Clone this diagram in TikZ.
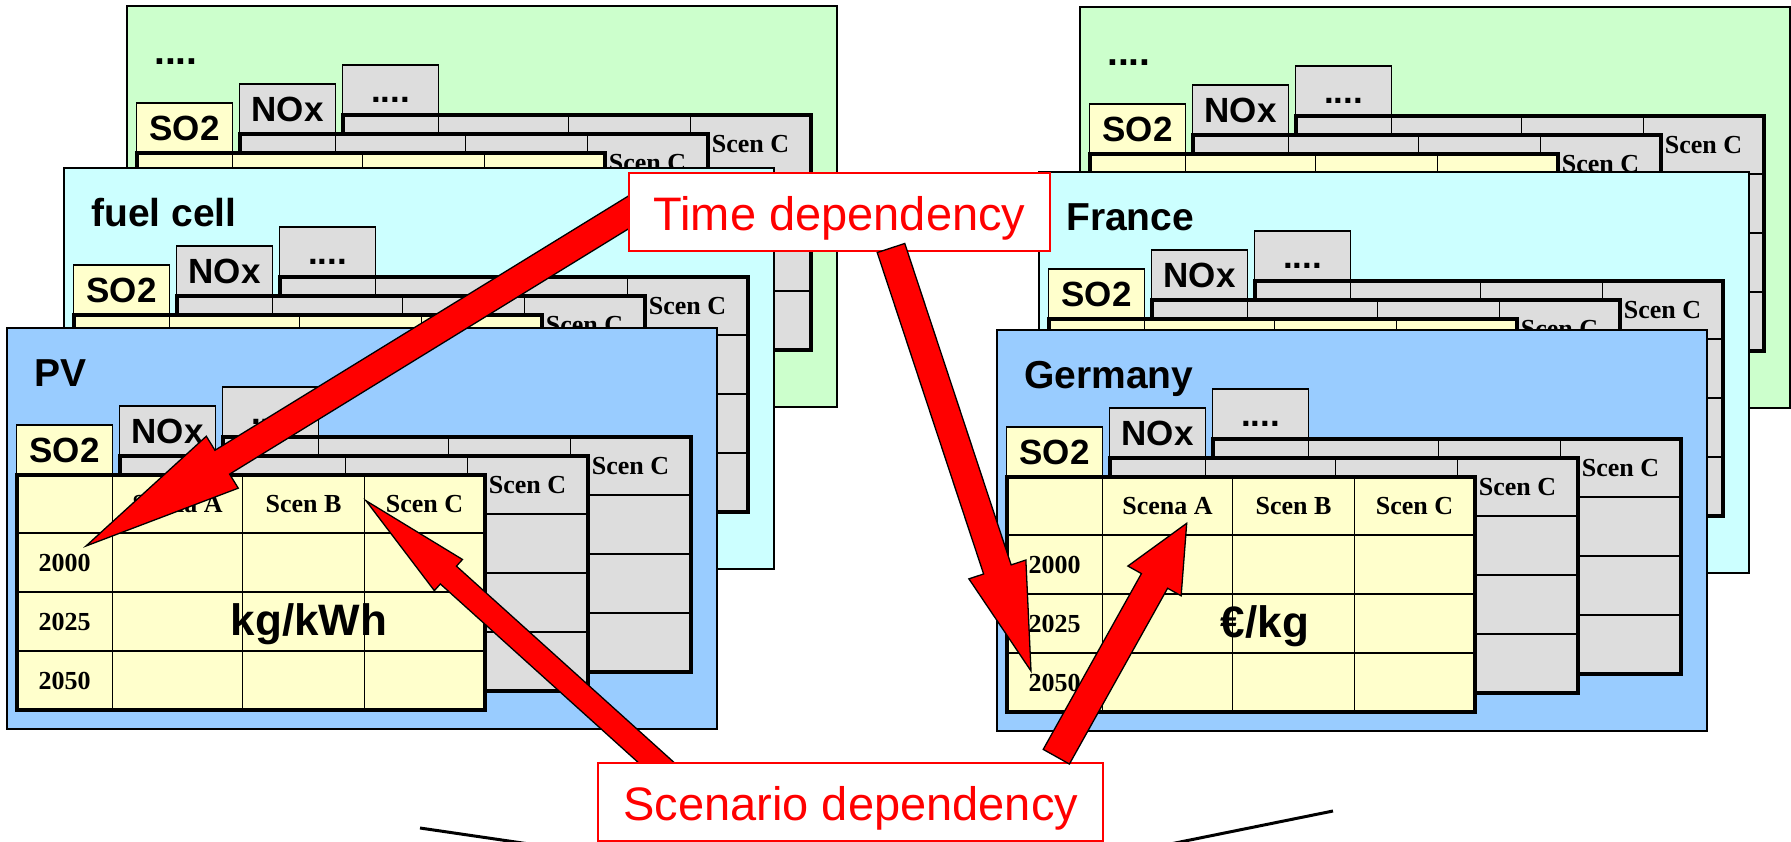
\documentclass[tikz,border=0pt]{standalone}
\usepackage{fontspec}
\setmainfont{Liberation Serif}
\newfontfamily\arialf{Liberation Sans}
\usetikzlibrary{calc}
\definecolor{pgreen}{HTML}{CCFFCC}
\definecolor{pcyan}{HTML}{CCFFFF}
\definecolor{pblue}{HTML}{99CCFF}
\definecolor{tyellow}{HTML}{FFFFCC}
\definecolor{tgrey}{HTML}{DDDDDD}
\definecolor{ared}{HTML}{FF0000}
\tikzset{
  panelbox/.style={draw=black, line width=1.3pt},
  plabel/.style={font=\arialf\bfseries\fontsize{39}{44}\selectfont, inner sep=0pt, anchor=base west},
  tabbox/.style={draw=black, line width=1.3pt, minimum width=96pt, minimum height=50pt, inner sep=0pt,
                 font=\arialf\bfseries\fontsize{35}{40}\selectfont},
  gridline/.style={line width=1.6pt},
  frameline/.style={line width=4pt},
  hdr/.style={font=\bfseries\fontsize{26}{28}\selectfont, inner sep=0pt},
  unittext/.style={font=\arialf\bfseries\fontsize{44}{48}\selectfont, inner sep=0pt, anchor=base},
  calloutbox/.style={draw=ared, line width=2pt, fill=white, inner sep=0pt},
  callouttext/.style={text=ared, font=\arialf\fontsize{47}{52}\selectfont, inner sep=0pt, anchor=base},
  redarrow/.style={fill=ared, draw=black, line width=1.3pt, line join=miter},
  cutline/.style={line width=3pt, line cap=butt},
}
% table: x, y, fill, name
\newcommand\gridtab[4]{%
  \begin{scope}[shift={(#1,#2)}]
    \fill[#3] (0,0) rectangle (468,235);
    \draw[gridline] (96,0) -- (96,235) (226,0) -- (226,235) (348,0) -- (348,235)
                    (0,58) -- (468,58) (0,117) -- (468,117) (0,176) -- (468,176);
    \draw[frameline] (0,0) rectangle (468,235);
    \node[hdr] (#4-scenc) at (408,29) {Scen C};
  \end{scope}}
% panel: x, y, colour, label, name
\newcommand\infopanel[5]{%
  \begin{scope}[shift={(#1,#2)}]
    \draw[panelbox, fill=#3] (0,0) rectangle (710,401);
    \node[plabel] (#5-label) at (27,58.5) {#4};
    \node[tabbox, fill=tgrey] (#5-tabc) at (263.5,84) {\vphantom{SO2}....\hspace{28pt}};
    \gridtab{215.5}{109}{tgrey}{#5-t3}
    \node[tabbox, fill=tgrey] (#5-tabb) at (160.5,103) {\vphantom{SO2}NOx};
    \gridtab{112.5}{128}{tgrey}{#5-t2}
    \node[tabbox, fill=tyellow] (#5-taba) at (57.5,122) {SO2};
    \gridtab{9.5}{147}{tyellow}{#5-t1}
  \end{scope}}
% front table contents: x, y, name
\newcommand\tabtexts[3]{%
  \begin{scope}[shift={(#1,#2)}]
    \node[hdr] (#3-sa) at (161,29) {Scena A};
    \node[hdr] (#3-sb) at (287,29) {Scen B};
    \node[hdr] (#3-y1) at (48,87.5) {2000};
    \node[hdr] (#3-y2) at (48,146.5) {2025};
    \node[hdr] (#3-y3) at (48,205.5) {2050};
  \end{scope}}
% block arrow: start, tip, half shaft, half head, head length
\newcommand\blockarrow[5]{%
  \coordinate (ba-h) at ($(#2)!#5!(#1)$);
  \draw[redarrow] ($(#1)!#3!90:(#2)$) -- ($(ba-h)!#3!90:(#2)$) -- ($(ba-h)!#4!90:(#2)$) -- (#2)
     -- ($(ba-h)!#4!-90:(#2)$) -- ($(ba-h)!#3!-90:(#2)$) -- ($(#1)!#3!-90:(#2)$) -- cycle;}
\begin{document}
\begin{tikzpicture}[x=1pt, y=-1pt]
\useasboundingbox (0,0) rectangle (1791,841);
\clip (0,0) rectangle (1791,841);
% left group
\infopanel{127}{6}{pgreen}{....}{lg}
\infopanel{64}{168}{pcyan}{fuel cell}{lc}
\infopanel{7}{328}{pblue}{PV}{pv}
\tabtexts{16.5}{475}{pvt}
\node[unittext] (pvunit) at (309,635) {kg/kWh};
% right group
\infopanel{1080}{7}{pgreen}{....}{rg}
\infopanel{1039}{172}{pcyan}{France}{fr}
\infopanel{997}{330}{pblue}{Germany}{de}
\tabtexts{1006.5}{477}{det}
\node[unittext] (deunit) at (1265,637) {€/kg};
% bottom cut-off lines
\draw[cutline] (420,828) -- (560,848.5);
\draw[cutline] (1333,811) -- (1150,848.1);
% arrows under the callouts
\coordinate (aA-s) at (660,193);
\coordinate (aA-t) at (86,546);
\blockarrow{aA-s}{aA-t}{14pt}{30.5pt}{160pt}
\coordinate (aC-s) at (690,793);
\coordinate (aC-t) at (366,500.7);
\blockarrow{aC-s}{aC-t}{12pt}{21pt}{111pt}
% callouts
\node[calloutbox, minimum width=421pt, minimum height=78pt] (timebox) at (839.5,211.7) {};
\node[callouttext] (timetext) at (839.5,230) {Time dependency};
\node[calloutbox, minimum width=505pt, minimum height=78pt] (scenbox) at (850.8,801.7) {};
\node[callouttext] (scentext) at (850.8,820) {Scenario dependency};
% arrows over the callouts
\coordinate (aB-s) at (891,248);
\coordinate (aB-t) at (1031,671);
\blockarrow{aB-s}{aB-t}{14.5pt}{30pt}{107pt}
\coordinate (aD-s) at (1056.3,756.7);
\coordinate (aD-t) at (1186.7,523.3);
\blockarrow{aD-s}{aD-t}{15pt}{30.5pt}{66pt}
\end{tikzpicture}
\end{document}
